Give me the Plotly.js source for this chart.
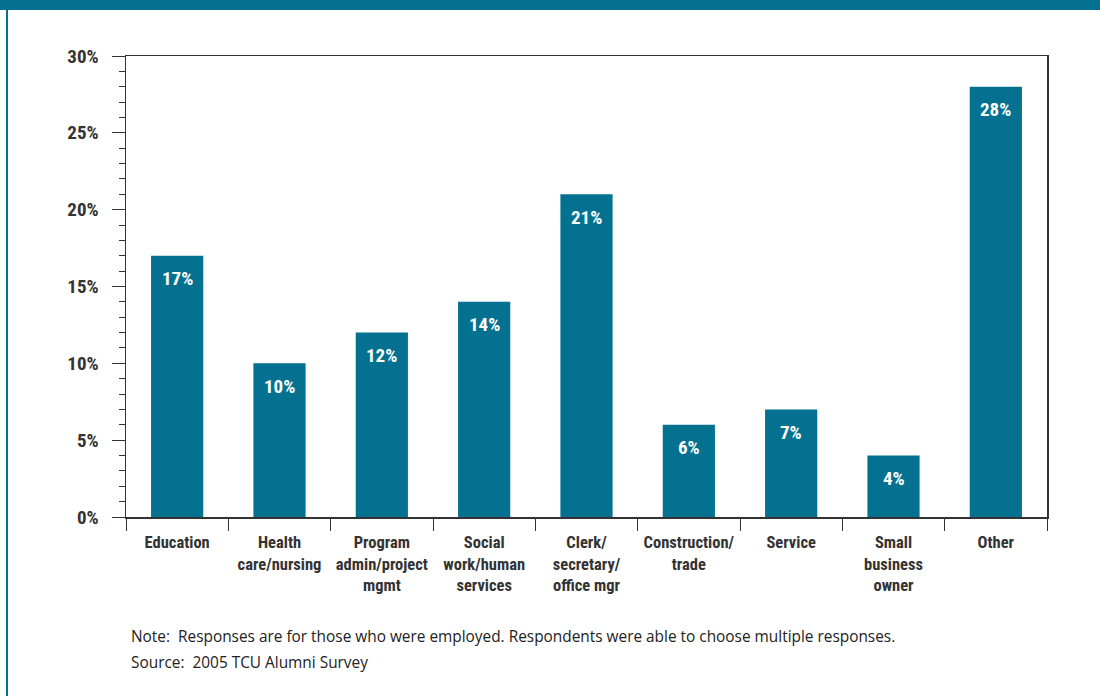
<!DOCTYPE html>
<html>
<head>
<meta charset="utf-8">
<script src="https://cdn.plot.ly/plotly-3.0.1.min.js"></script>
<style>
html,body{margin:0;padding:0;background:#fff;}
#chart{width:1100px;height:696px;}
</style>
</head>
<body>
<div id="chart"></div>
<script>
const categories = ["Education", "Health<br>care/nursing", "Program<br>admin/project<br>mgmt", "Social<br>work/human<br>services", "Clerk/<br>secretary/<br>office mgr", "Construction/<br>trade", "Service", "Small<br>business<br>owner", "Other"];
const values = [17, 10, 12, 14, 21, 6, 7, 4, 28];
const valueLabels = values.map(v => v + "%");
const yTickVals = [0, 5, 10, 15, 20, 25, 30];
const noteLines = ["Note:  Responses are for those who were employed. Respondents were able to choose multiple responses.", "Source:  2005 TCU Alumni Survey"];

const teal = "#03718f";
const condensed = "Roboto Condensed";
const H = 461, W = 921;

const trace = {
  type: "bar",
  x: categories,
  y: values,
  width: 0.51,
  marker: {color: teal},
  hoverinfo: "none"
};

const barLabels = categories.map((c, i) => ({
  x: c, y: values[i], xref: "x", yref: "y",
  text: valueLabels[i], showarrow: false,
  yanchor: "middle", yshift: -23,
  font: {family: condensed, size: 19, color: "#ffffff", weight: "bold"}
}));

const notes = noteLines.map((t, i) => ({
  text: t, xref: "paper", yref: "paper", x: 3/W, y: -(119 + i*26)/H,
  xanchor: "left", yanchor: "middle", showarrow: false,
  font: {family: "Open Sans", size: 15.4, color: "#222"}
}));

const layout = {
  width: 1100, height: 696,
  margin: {l: 126, r: 53, t: 56, b: 179},
  paper_bgcolor: "#ffffff",
  plot_bgcolor: "#ffffff",
  showlegend: false,
  xaxis: {
    type: "category",
    tickson: "boundaries",
    tickangle: 0,
    ticks: "outside",
    ticklen: 12,
    tickwidth: 1,
    tickcolor: "#333",
    showline: true,
    linecolor: "#333",
    linewidth: 1.5,
    mirror: true,
    showgrid: false,
    zeroline: false,
    ticklabelstandoff: 10,
    tickfont: {family: condensed, size: 16.5, color: "#333", weight: "bold"},
    range: [-0.5, 8.5]
  },
  yaxis: {
    range: [0, 30],
    tickvals: yTickVals,
    ticktext: yTickVals.map(v => v + "%"),
    ticks: "outside",
    ticklen: 13,
    tickwidth: 1,
    tickcolor: "#333",
    minor: {dtick: 1, ticks: "outside", ticklen: 6, tickcolor: "#333", tickwidth: 1, showgrid: false},
    showline: true,
    linecolor: "#333",
    linewidth: 1.5,
    mirror: true,
    showgrid: false,
    zeroline: false,
    ticklabelstandoff: 9,
    tickfont: {family: condensed, size: 19, color: "#333", weight: "bold"}
  },
  shapes: [
    {type: "rect", xref: "paper", yref: "paper", x0: -126/W, x1: (1100-126)/W, y0: 1 + 46/H, y1: 1 + 56/H, fillcolor: teal, line: {width: 0}},
    {type: "rect", xref: "paper", yref: "paper", x0: -120/W, x1: -118/W, y0: -179/H, y1: 1 + 56/H, fillcolor: teal, line: {width: 0}}
  ],
  annotations: barLabels.concat(notes)
};

Plotly.newPlot("chart", [trace], layout, {displayModeBar: false, staticPlot: true});
</script>
</body>
</html>
